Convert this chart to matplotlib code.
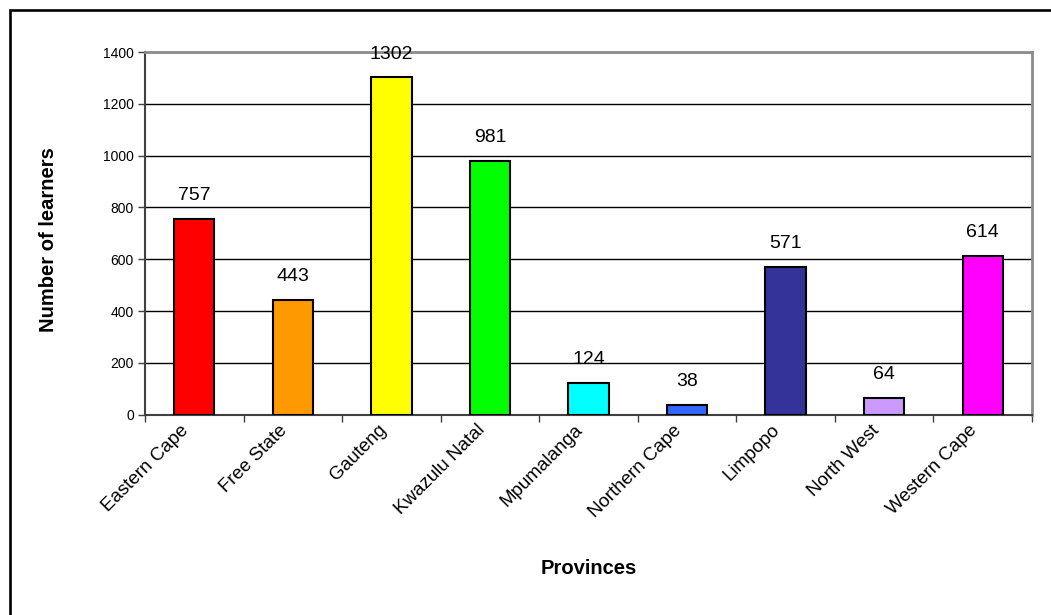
import numpy as np
import matplotlib.pyplot as plt
from matplotlib.patches import Rectangle
from matplotlib.ticker import FixedLocator
from matplotlib.transforms import ScaledTranslation

plt.rcParams['font.family'] = ['Liberation Sans', 'DejaVu Sans']

# Learners per province
provinces = ['Eastern Cape', 'Free State', 'Gauteng', 'Kwazulu Natal', 'Mpumalanga',
             'Northern Cape', 'Limpopo', 'North West', 'Western Cape']
learners = [757, 443, 1302, 981, 124, 38, 571, 64, 614]
bar_colors = ['#FF0000', '#FF9900', '#FFFF00', '#00FF00', '#00FFFF',
              '#3366FF', '#333399', '#CC99FF', '#FF00FF']
y_ticks = [0, 200, 400, 600, 800, 1000, 1200, 1400]

W, H = 1051, 615
fig = plt.figure(figsize=(W / 100, H / 100), dpi=100)
ax = fig.add_axes([145 / W, 1 - 414.7 / H, 887 / W, 362.7 / H])

x = np.arange(len(provinces))
ax.bar(x, learners, width=0.41, color=bar_colors, edgecolor='black', linewidth=1.5, zorder=3)

# value labels above each bar
for xi, v in zip(x, learners):
    ax.annotate(str(v), (xi, v), xytext=(0, 13.5), textcoords='offset points',
                ha='center', va='baseline', fontsize=14, color='black')

ax.set_xlim(-0.5, len(provinces) - 0.5)
ax.set_ylim(0, 1400)
ax.set_yticks(y_ticks)
ax.tick_params(axis='y', labelsize=10, length=5, width=1, color='#404040', pad=3)

# category labels at the centres, tick marks between categories
ax.set_xticks(x)
ax.set_xticklabels(provinces, rotation=45, ha='right', rotation_mode='anchor', fontsize=13.5)
ax.tick_params(axis='x', which='major', length=0, pad=5)
shift = ScaledTranslation(-14 / 100, 0, fig.dpi_scale_trans)
for lbl in ax.get_xticklabels():
    lbl.set_transform(lbl.get_transform() + shift)
ax.xaxis.set_minor_locator(FixedLocator(np.arange(-0.5, len(provinces), 1.0)))
ax.tick_params(axis='x', which='minor', length=5, width=1, color='#404040')

ax.grid(axis='y', color='black', linewidth=1, zorder=0)
ax.set_axisbelow(True)
for side in ['top', 'right']:
    ax.spines[side].set_color('#8C8C8C')
    ax.spines[side].set_linewidth(2)
for side in ['left', 'bottom']:
    ax.spines[side].set_color('#404040')
    ax.spines[side].set_linewidth(1.5)

ax.set_ylabel('Number of learners', fontsize=14.5, fontweight='bold')
ax.yaxis.set_label_coords(-0.098, 0.484)
ax.set_xlabel('Provinces', fontsize=14.5, fontweight='bold')
ax.xaxis.set_label_coords(0.5, -0.423)
ax.xaxis.label.set_va('center')

# outer chart border
fig.patches.append(Rectangle((9.7 / W, -0.5), 2, 1 - 10.2 / H + 0.5, transform=fig.transFigure,
                             fill=False, edgecolor='black', linewidth=1.9))

fig.savefig('out.png', dpi=100)
